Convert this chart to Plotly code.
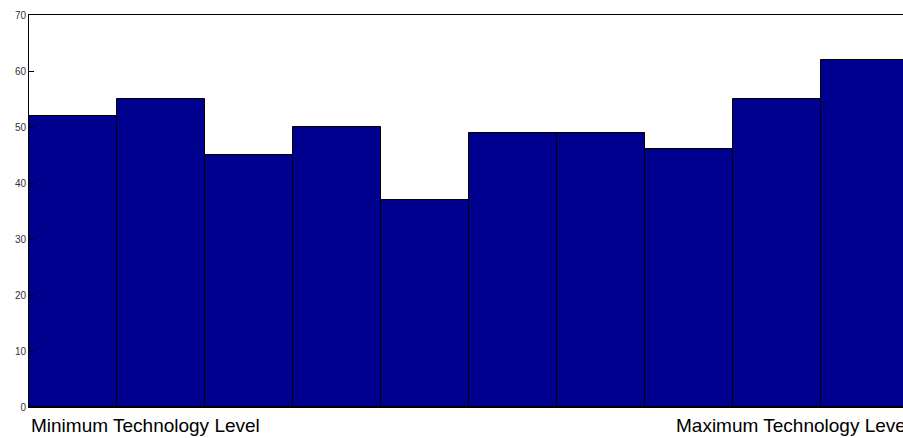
import plotly.graph_objects as go

bins = [1, 2, 3, 4, 5, 6, 7, 8, 9, 10]
counts = [52, 55, 45, 50, 37, 49, 49, 46, 55, 62]
y_ticks = [0, 10, 20, 30, 40, 50, 60, 70]
end_labels = ["Minimum Technology Level", "Maximum Technology Level"]

fig = go.Figure(go.Bar(
    x=bins, y=counts, width=1,
    marker=dict(color="rgb(0,0,143)", line=dict(color="black", width=1)),
))

fig.update_layout(
    width=903, height=438,
    margin=dict(l=29, r=0, t=15, b=31),
    paper_bgcolor="white", plot_bgcolor="white",
    bargap=0, showlegend=False,
    font=dict(family="Liberation Sans, Arial", color="black"),
)
fig.update_xaxes(
    range=[0.5, 10.43], showgrid=False, zeroline=False,
    showline=True, linecolor="black", linewidth=1, mirror=True,
    showticklabels=False, ticks="",
)
fig.update_yaxes(
    range=[0, 70], tickvals=y_ticks, showgrid=False, zeroline=False,
    showline=True, linecolor="black", linewidth=1,
    ticks="inside", ticklen=5, tickcolor="black",
    tickfont=dict(size=10, color="#333"),
)
fig.add_annotation(text=end_labels[0], xref="paper", yref="paper", x=0.0, y=0,
                   xanchor="left", yanchor="top", yshift=-6, showarrow=False,
                   font=dict(size=19, color="black"))
fig.add_annotation(text=end_labels[1], xref="paper", yref="paper", x=(674 - 29) / 874, y=0,
                   xanchor="left", yanchor="top", yshift=-6, showarrow=False,
                   font=dict(size=19, color="black"))

fig.write_html(
    "out.html",
    config={"displayModeBar": False},
    post_script="document.body.style.margin='0';document.body.style.overflow='hidden';"
                "document.documentElement.style.overflow='hidden';",
)
